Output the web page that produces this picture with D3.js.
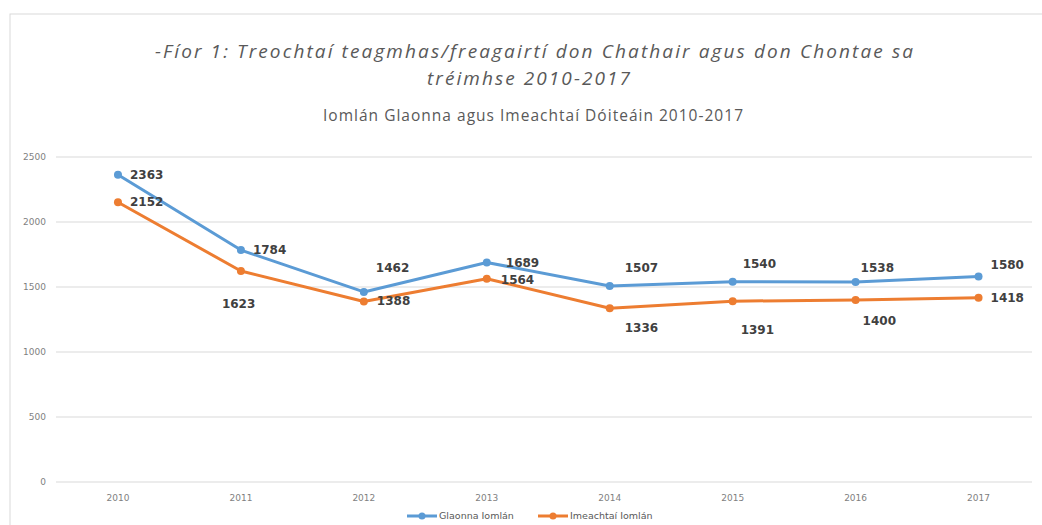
<!DOCTYPE html>
<html>
<head>
<meta charset="utf-8">
<script src="https://cdn.jsdelivr.net/npm/d3@7"></script>
<style>
  body { margin: 0; background: #fff; }
  svg { display: block; }
</style>
</head>
<body>
<svg id="chart" width="1042" height="525"></svg>
<script>
// data
var years = ["2010", "2011", "2012", "2013", "2014", "2015", "2016", "2017"]
var glaonna = [2363, 1784, 1462, 1689, 1507, 1540, 1538, 1580]
var imeachtai = [2152, 1623, 1388, 1564, 1336, 1391, 1400, 1418]
var yTicks = [0, 500, 1000, 1500, 2000, 2500]
var seriesNames = ["Glaonna Iomlán", "Imeachtaí Iomlán"]

// where each data label sits relative to its point [dx, dy]
var glaonnaLabelPos = [[12, 0], [12, 0], [12, -24], [19, 0], [15, -18], [10, -18], [5, -14], [12, -12]]
var imeachtaiLabelPos = [[12, 0], [-19, 33], [13, -1], [14, 1], [15, 19], [8, 29], [7, 21], [12, 0]]

var blue = "#5b9bd5"
var orange = "#ed7d31"

var svg = d3.select("#chart")

// chart frame
svg.append("rect")
	.attr("x", 10).attr("y", 14)
	.attr("width", 1060).attr("height", 540)
	.attr("fill", "#fff")
	.attr("stroke", "#d9d9d9")
	.attr("stroke-width", 1)

// titles (stretched to the widths seen in the picture)
var title = svg.append("g")
	.attr("font-family", "Open Sans")
	.attr("font-style", "italic")
	.attr("fill", "#595959")
	.attr("font-size", "19px")
title.append("text")
	.attr("x", 155).attr("y", 58)
	.attr("textLength", 758).attr("lengthAdjust", "spacing")
	.text("-Fíor 1: Treochtaí teagmhas/freagairtí don Chathair agus don Chontae sa")
title.append("text")
	.attr("x", 427).attr("y", 84.5)
	.attr("textLength", 203).attr("lengthAdjust", "spacing")
	.text("tréimhse 2010-2017")

svg.append("text")
	.attr("x", 323).attr("y", 121)
	.attr("textLength", 420).attr("lengthAdjust", "spacing")
	.attr("font-family", "Open Sans")
	.attr("font-size", "15.5px")
	.attr("fill", "#595959")
	.text("Iomlán Glaonna agus Imeachtaí Dóiteáin 2010-2017")

var x = d3.scaleBand().domain(years).range([56.5, 1040])
var y = d3.scaleLinear().domain([0, 2500]).range([482, 157])

// gridlines
svg.append("g")
	.selectAll("line")
	.data(yTicks)
	.enter().append("line")
	.attr("x1", 56).attr("x2", 1032)
	.attr("y1", function(d) { return y(d) })
	.attr("y2", function(d) { return y(d) })
	.attr("stroke", "#d9d9d9")
	.attr("stroke-width", 1)

// y axis labels
var yAxis = svg.append("g")
	.attr("transform", "translate(46,0)")
	.call(d3.axisLeft(y).tickValues(yTicks).tickFormat(d3.format("d")).tickSize(0).tickPadding(0))
yAxis.select(".domain").remove()
yAxis.selectAll("text")
	.attr("font-family", "DejaVu Sans")
	.attr("font-size", "9px")
	.attr("fill", "#7f7f7f")

// x axis labels
var xAxis = svg.append("g")
	.attr("transform", "translate(0,482)")
	.call(d3.axisBottom(x).tickSize(0).tickPadding(13))
xAxis.select(".domain").remove()
xAxis.selectAll("text")
	.attr("font-family", "DejaVu Sans")
	.attr("font-size", "9px")
	.attr("fill", "#7f7f7f")

var line = d3.line()
	.x(function(d, i) { return x(years[i]) + x.bandwidth() / 2 })
	.y(function(d) { return y(d) })

function drawSeries(values, color, labelPos) {
	var g = svg.append("g")
	g.append("path")
		.attr("d", line(values))
		.attr("fill", "none")
		.attr("stroke", color)
		.attr("stroke-width", 3)
		.attr("stroke-linejoin", "round")
		.attr("stroke-linecap", "round")
	g.selectAll("circle")
		.data(values)
		.enter().append("circle")
		.attr("cx", function(d, i) { return x(years[i]) + x.bandwidth() / 2 })
		.attr("cy", function(d) { return y(d) })
		.attr("r", 4)
		.attr("fill", color)
	g.selectAll("text")
		.data(values)
		.enter().append("text")
		.attr("x", function(d, i) { return x(years[i]) + x.bandwidth() / 2 + labelPos[i][0] })
		.attr("y", function(d, i) { return y(d) + labelPos[i][1] })
		.attr("dy", "0.35em")
		.attr("font-family", "DejaVu Sans")
		.attr("font-weight", "bold")
		.attr("font-size", "12px")
		.attr("fill", "#404040")
		.text(function(d) { return d })
}

drawSeries(glaonna, blue, glaonnaLabelPos)
drawSeries(imeachtai, orange, imeachtaiLabelPos)

// legend
var legend = svg.append("g")
	.selectAll("g")
	.data(seriesNames)
	.enter().append("g")
	.attr("transform", function(d, i) { return "translate(" + (407 + i * 131) + ",516)" })
legend.append("line")
	.attr("x1", 0).attr("x2", 30)
	.attr("stroke", function(d, i) { return i == 0 ? blue : orange })
	.attr("stroke-width", 3)
legend.append("circle")
	.attr("cx", 15).attr("r", 3.5)
	.attr("fill", function(d, i) { return i == 0 ? blue : orange })
legend.append("text")
	.attr("x", 32)
	.attr("dy", "0.35em")
	.attr("font-family", "DejaVu Sans")
	.attr("font-size", "9.5px")
	.attr("fill", "#595959")
	.text(function(d) { return d })
</script>
</body>
</html>
